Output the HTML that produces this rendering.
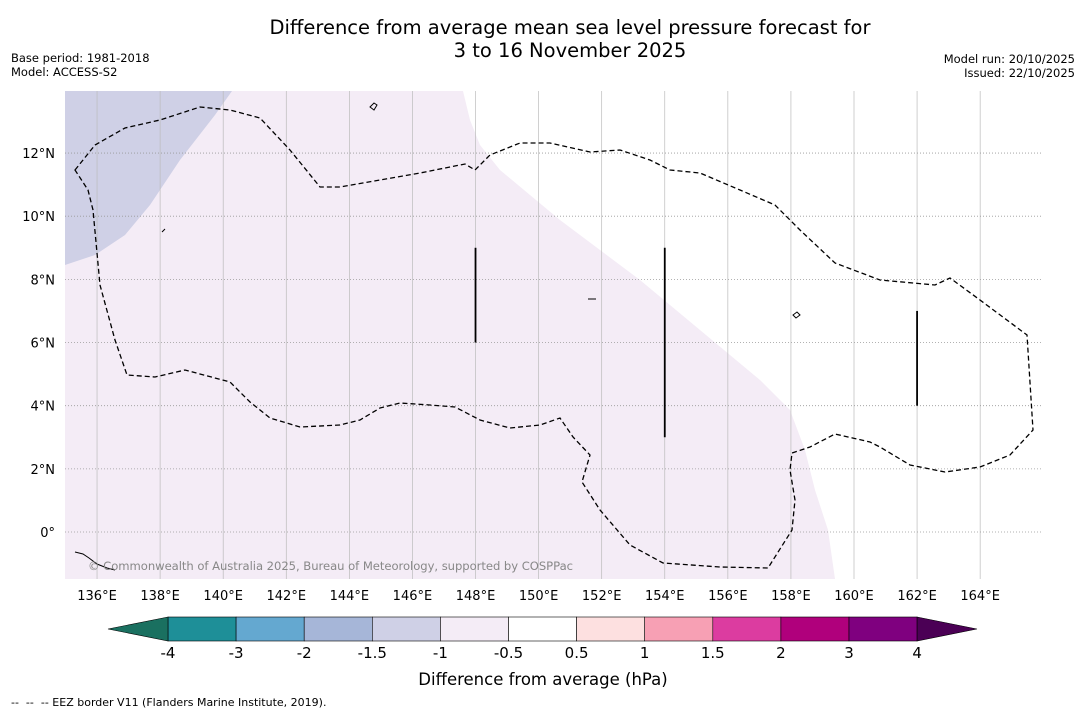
<!DOCTYPE html>
<html><head><meta charset="utf-8"><style>
body{margin:0;background:#fff;font-family:"DejaVu Sans","Liberation Sans",sans-serif;}
svg text{font-family:"DejaVu Sans","Liberation Sans",sans-serif;}
</style></head><body>
<svg id="c" width="1085" height="713" xmlns="http://www.w3.org/2000/svg">
<rect width="1085" height="713" fill="#fff"/>
<text x="570" y="34" font-size="19.5" text-anchor="middle">Difference from average mean sea level pressure forecast for</text>
<text x="570" y="57" font-size="19.5" text-anchor="middle">3 to 16 November 2025</text>
<text x="11" y="62" font-size="11.5">Base period: 1981-2018</text>
<text x="11" y="76" font-size="11.5">Model: ACCESS-S2</text>
<text x="1075" y="63" font-size="11.5" text-anchor="end">Model run: 20/10/2025</text>
<text x="1075" y="77" font-size="11.5" text-anchor="end">Issued: 22/10/2025</text>
<g id="map">
<clipPath id="cp"><rect x="65" y="91" width="977" height="488"/></clipPath>
<g clip-path="url(#cp)">
<rect x="65" y="91" width="977" height="488" fill="#fff"/>
<path fill="#f4ecf6" d="M65,91 L463,91 L470,120 L480,145 L500,170 L530,195 L560,220 L600,250 L640,280 L700,330 L760,380 L790,410 L805,450 L815,490 L828,530 L835,579 L65,579Z"/>
<path fill="#cfd0e6" d="M65,91 L232,91 L215,115 L180,160 L150,205 L125,235 L95,255 L65,265Z"/>
<g id="grid"></g>
<path fill="none" stroke="#000" stroke-width="1.3" stroke-dasharray="5,3" d="M75,170 L95,145 L125,128 L160,120 L200,107 L230,110 L260,118 L290,150 L320,187 L340,187 L380,180 L420,173 L465,164 L475,170 L490,155 L520,143 L550,143 L590,152 L620,150 L650,160 L670,170 L700,173 L740,190 L775,205 L800,230 L835,263 L880,280 L935,285 L950,278 L980,300 L1027,335 L1033,430 L1010,455 L980,467 L945,472 L910,465 L880,447 L870,442 L835,434 L810,447 L792,453 L790,470 L795,500 L792,530 L768,568 L720,567 L663,563 L630,545 L600,510 L582,482 L590,455 L573,437 L560,418 L540,425 L510,428 L480,420 L455,407 L430,405 L400,403 L380,408 L360,420 L340,425 L300,427 L270,418 L250,402 L230,382 L185,370 L155,377 L127,375 L115,340 L100,285 L93,210 L88,190 Z"/>
<path fill="none" stroke="#000" stroke-width="1" d="M75,552 l8,2 l6,4 l8,6 l10,4 l8,2 M370,107 l4,-4 l3,2 l-3,5z M588,299 l8,0 M793,315 l4,-3 l3,3 l-4,3z M162,232 l3,-3"/>
<g id="bars"></g>
</g>
<text x="88" y="570" font-size="11.6" fill="#888" textLength="485">© Commonwealth of Australia 2025, Bureau of Meteorology, supported by COSPPac</text>
<g id="ticks"></g>
</g>
<g id="cbar"></g>
<text x="543" y="685" font-size="16.5" text-anchor="middle">Difference from average (hPa)</text>
<text x="11" y="706" font-size="11" xml:space="preserve">--  --  -- EEZ border V11 (Flanders Marine Institute, 2019).</text>
</svg>
<script>
const lonTicks=[136,138,140,142,144,146,148,150,152,154,156,158,160,162,164];
const latTicks=[0,2,4,6,8,10,12];
const segLon=[148,154,162];
const segLat0=[6,3,4];
const segLat1=[9,9,7];
const cbLevels=["-4","-3","-2","-1.5","-1","-0.5","0.5","1","1.5","2","3","4"];
const cbColors=["#1e8f98","#64a8d0","#a6b6d8","#cfd0e6","#f4ecf6","#ffffff","#fde0e0","#f7a0b4","#dc3ca0","#b0007c","#7f007f"];
const NS="http://www.w3.org/2000/svg";
const X=lon=>65.5+(lon-135)*31.54, Y=lat=>532-lat*31.58;
function mk(t,a,p){const e=document.createElementNS(NS,t);for(const k in a)e.setAttribute(k,a[k]);p.appendChild(e);return e;}
const grid=document.getElementById('grid'),ticks=document.getElementById('ticks');
lonTicks.forEach(l=>{
 const ln=mk('line',{x1:X(l),x2:X(l),y1:91,y2:579,stroke:'#bbb','stroke-width':0.7},grid);
 
 
 const t=mk('text',{x:X(l),y:600,'font-size':13,'text-anchor':'middle'},ticks);t.textContent=l+'°E';
 
 
});
latTicks.forEach(l=>{
 const ln=mk('line',{x1:65,x2:1042,y1:Y(l),y2:Y(l),stroke:'#999','stroke-width':0.8,'stroke-dasharray':'1,2'},grid);
 
 
 const t=mk('text',{x:55,y:Y(l)+5,'font-size':13,'text-anchor':'end'},ticks);t.textContent=l===0?'0°':l+'°N';
 
 
});
const bars=document.getElementById('bars');
segLon.forEach((l,i)=>{
 const ln=mk('line',{x1:X(l),x2:X(l),y1:Y(segLat0[i]),y2:Y(segLat1[i]),stroke:'#000','stroke-width':1.8},bars);
 
 
});
const cb=document.getElementById('cbar');const x0=168,w=68.1,y0=617,h=24;
cbColors.forEach((c,i)=>{
 const r=mk('rect',{x:x0+i*w,y:y0,width:w,height:h,fill:c,stroke:'#000','stroke-width':0.6},cb);
 
 
});
const xe=x0+cbColors.length*w;
let p=mk('polygon',{points:`${x0},${y0} 108,${y0+h/2} ${x0},${y0+h}`,fill:'#1a7060',stroke:'#000','stroke-width':0.6},cb);


p=mk('polygon',{points:`${xe},${y0} 977,${y0+h/2} ${xe},${y0+h}`,fill:'#4b0055',stroke:'#000','stroke-width':0.6},cb);


cbLevels.forEach((v,i)=>{
 const t=mk('text',{x:x0+i*w,y:658,'font-size':15,'text-anchor':'middle'},cb);t.textContent=v;
 
 
});
</script>
</body></html>
